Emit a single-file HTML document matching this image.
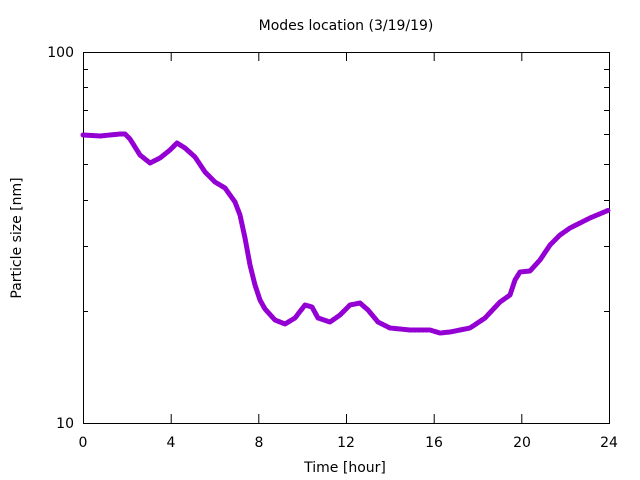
<!DOCTYPE html>
<html><head><meta charset="utf-8"><style>
body{margin:0;background:#fff;}
svg{display:block;font-family:"DejaVu Sans","Liberation Sans",sans-serif;}
</style></head><body>
<svg width="640" height="480" viewBox="0 0 640 480" xmlns="http://www.w3.org/2000/svg">
<rect width="640" height="480" fill="#fff"/>
<text x="346" y="30" font-size="14" text-anchor="middle" fill="#000">Modes location (3/19/19)</text>
<g stroke="#000" stroke-width="1" fill="none">
<rect x="83.5" y="52.5" width="526" height="371"/>
<path d="M83.5 423v-9M83.5 52v9M171.2 423v-9M171.2 52v9M258.8 423v-9M258.8 52v9M346.5 423v-9M346.5 52v9M434.2 423v-9M434.2 52v9M521.8 423v-9M521.8 52v9M609.5 423v-9M609.5 52v9"/>
<path d="M83 311.5h5M83 246.5h5M83 200.5h5M83 164.5h5M83 134.5h5M83 110.5h5M83 87.5h5M83 69.5h5
M609 311.5h-5M609 246.5h-5M609 200.5h-5M609 164.5h-5M609 134.5h-5M609 110.5h-5M609 87.5h-5M609 69.5h-5
M83 52.5h9M609 52.5h-9M83 423.5h9M609 423.5h-9"/>
</g>
<g font-size="14" fill="#000" text-anchor="middle">
<text x="83" y="447">0</text><text x="171" y="447">4</text><text x="259" y="447">8</text><text x="346" y="447">12</text><text x="434" y="447">16</text><text x="522" y="447">20</text><text x="609" y="447">24</text>
<text x="345" y="472">Time [hour]</text>
</g>
<g font-size="14" fill="#000" text-anchor="end">
<text x="74" y="57">100</text><text x="74" y="428">10</text>
</g>
<text transform="translate(21,238) rotate(-90)" font-size="14" text-anchor="middle">Particle size [nm]</text>
<polyline fill="none" stroke="#9400d3" stroke-width="5" stroke-linejoin="round" stroke-linecap="round" stroke-dasharray="3 1.2"
points="83,135 100,136 120,134 125,134 130,139 140,155 150,163 160,158 170,150 177,143 185,148 195,157 205,172 215,182 225,188 235,202 240,215 245,238 250,265 255,285 260,300 265,309 275,320 285,324 295,318 305,305 312,307 318,318 330,322 340,315 350,305 360,303 368,310 378,322 390,328 410,330 420,330 430,330 440,333 450,332 460,330 470,328 485,318 500,302 510,295 515,280 520,272 530,271 540,260 550,245 560,235 570,228 580,223 590,218 609,210"/>
</svg>
</body></html>
